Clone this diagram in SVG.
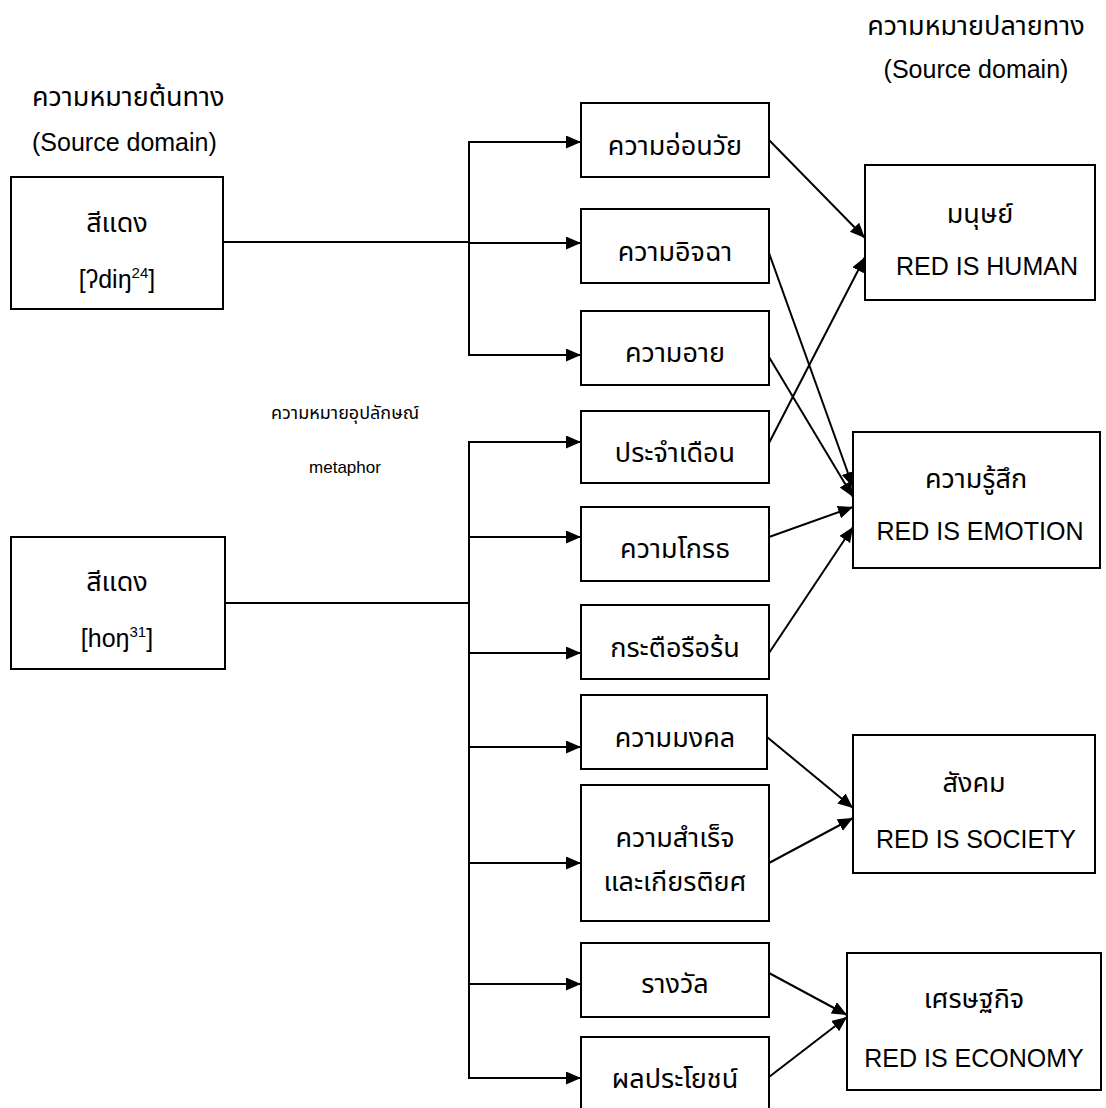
<svg xmlns="http://www.w3.org/2000/svg" width="1106" height="1108" viewBox="0 0 1106 1108">
<style>
text{font-family:"Liberation Sans","Noto Sans Thai","Noto Sans",sans-serif;fill:#000;font-size:25px}
.th{font-size:27px}
.c{text-anchor:middle}
.s{font-size:17px}
.sth{font-size:18px}
rect{fill:#fff;stroke:#000;stroke-width:2}
#connectors line{stroke:#000;stroke-width:2;fill:none}
</style>
<defs>
<marker id="ah" markerUnits="userSpaceOnUse" markerWidth="16" markerHeight="14" refX="15" refY="6.5" orient="auto">
<path d="M0,0 L15,6.5 L0,13 z" fill="#000"/>
</marker>
</defs>
<rect x="0" y="0" width="1106" height="1108" style="stroke:none"/>
<g id="labels">
<text class="th" x="32" y="106">ความหมายต้นทาง</text>
<text x="32" y="151">(Source domain)</text>
<text class="c th" x="976" y="35">ความหมายปลายทาง</text>
<text class="c" x="976" y="78">(Source domain)</text>
<text class="c sth" x="345" y="419">ความหมายอุปลักษณ์</text>
<text class="c s" x="345" y="473">metaphor</text>
</g>
<g id="connectors">
<line x1="223" y1="242" x2="469" y2="242"/>
<line x1="469" y1="141" x2="469" y2="356"/>
<line x1="469" y1="142" x2="581" y2="142" marker-end="url(#ah)"/>
<line x1="469" y1="243" x2="581" y2="243" marker-end="url(#ah)"/>
<line x1="469" y1="355" x2="581" y2="355" marker-end="url(#ah)"/>
<line x1="225" y1="603" x2="469" y2="603"/>
<line x1="469" y1="441" x2="469" y2="1079"/>
<line x1="469" y1="442" x2="581" y2="442" marker-end="url(#ah)"/>
<line x1="469" y1="537" x2="581" y2="537" marker-end="url(#ah)"/>
<line x1="469" y1="653" x2="581" y2="653" marker-end="url(#ah)"/>
<line x1="469" y1="747" x2="581" y2="747" marker-end="url(#ah)"/>
<line x1="469" y1="863" x2="581" y2="863" marker-end="url(#ah)"/>
<line x1="469" y1="984" x2="581" y2="984" marker-end="url(#ah)"/>
<line x1="469" y1="1078" x2="581" y2="1078" marker-end="url(#ah)"/>
<line x1="769" y1="140" x2="865" y2="238" marker-end="url(#ah)"/>
<line x1="769" y1="253" x2="853" y2="487" marker-end="url(#ah)"/>
<line x1="769" y1="357" x2="853" y2="497" marker-end="url(#ah)"/>
<line x1="769" y1="443" x2="865" y2="257" marker-end="url(#ah)"/>
<line x1="769" y1="537" x2="853" y2="507" marker-end="url(#ah)"/>
<line x1="769" y1="653" x2="853" y2="527" marker-end="url(#ah)"/>
<line x1="767" y1="737" x2="853" y2="808" marker-end="url(#ah)"/>
<line x1="769" y1="863" x2="853" y2="818" marker-end="url(#ah)"/>
<line x1="769" y1="973" x2="847" y2="1015" marker-end="url(#ah)"/>
<line x1="769" y1="1077" x2="847" y2="1017" marker-end="url(#ah)"/>
</g>
<g id="src1"><rect x="11" y="177" width="212" height="132"/>
<text class="c th" x="117" y="232">สีแดง</text>
<text class="c" x="117" y="288">[ʔdiŋ<tspan font-size="15" dy="-10">24</tspan><tspan dy="10">]</tspan></text></g>
<g id="src2"><rect x="11" y="537" width="214" height="132"/>
<text class="c th" x="117" y="591">สีแดง</text>
<text class="c" x="117" y="647">[hoŋ<tspan font-size="15" dy="-10">31</tspan><tspan dy="10">]</tspan></text></g>
<g id="m1"><rect x="581" y="103" width="188" height="74"/><text class="c th" x="675" y="155">ความอ่อนวัย</text></g>
<g id="m2"><rect x="581" y="209" width="188" height="74"/><text class="c th" x="675" y="261">ความอิจฉา</text></g>
<g id="m3"><rect x="581" y="311" width="188" height="74"/><text class="c th" x="675" y="362">ความอาย</text></g>
<g id="m4"><rect x="581" y="411" width="188" height="72"/><text class="c th" x="675" y="462">ประจำเดือน</text></g>
<g id="m5"><rect x="581" y="507" width="188" height="74"/><text class="c th" x="675" y="558">ความโกรธ</text></g>
<g id="m6"><rect x="581" y="605" width="188" height="74"/><text class="c th" x="675" y="657">กระตือรือร้น</text></g>
<g id="m7"><rect x="581" y="695" width="186" height="74"/><text class="c th" x="675" y="747">ความมงคล</text></g>
<g id="m8"><rect x="581" y="785" width="188" height="136"/><text class="c th" x="675" y="847">ความสำเร็จ</text><text class="c th" x="675" y="891">และเกียรติยศ</text></g>
<g id="m9"><rect x="581" y="943" width="188" height="74"/><text class="c th" x="675" y="993">รางวัล</text></g>
<g id="m10"><rect x="581" y="1037" width="188" height="76"/><text class="c th" x="675" y="1088">ผลประโยชน์</text></g>
<g id="t1"><rect x="865" y="165" width="230" height="135"/><text class="c th" x="980" y="223">มนุษย์</text><text class="c" x="987" y="275">RED IS HUMAN</text></g>
<g id="t2"><rect x="853" y="432" width="247" height="136"/><text class="c th" x="976" y="488">ความรู้สึก</text><text class="c" x="980" y="540">RED IS EMOTION</text></g>
<g id="t3"><rect x="853" y="735" width="242" height="138"/><text class="c th" x="974" y="792">สังคม</text><text class="c" x="976" y="848">RED IS SOCIETY</text></g>
<g id="t4"><rect x="847" y="953" width="254" height="137"/><text class="c th" x="974" y="1008">เศรษฐกิจ</text><text class="c" x="974" y="1067">RED IS ECONOMY</text></g>
</svg>
